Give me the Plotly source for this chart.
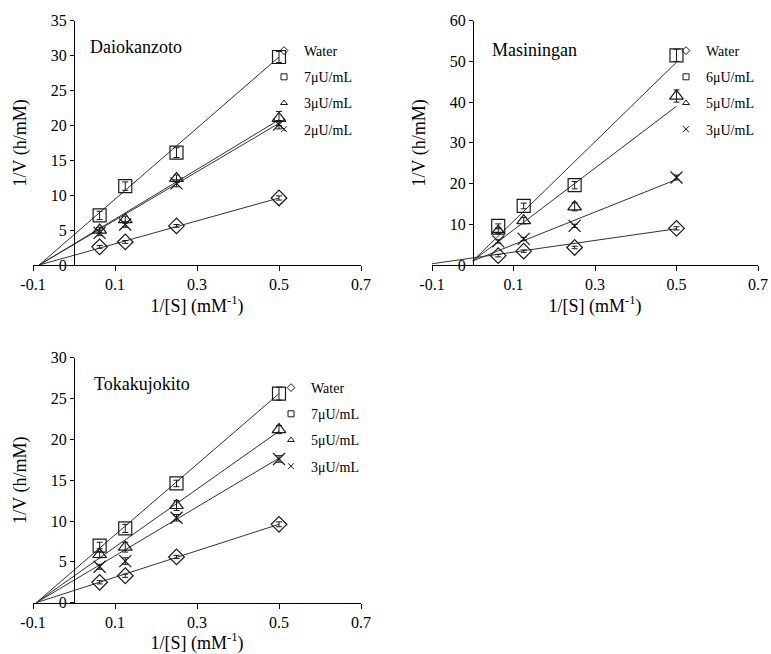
import plotly.graph_objects as go

# ---------------- data ----------------
inv_s = [0.0625, 0.125, 0.25, 0.5]
x_tick_vals = [-0.1, 0.1, 0.3, 0.5, 0.7]
x_tick_text = ["-0.1", "0.1", "0.3", "0.5", "0.7"]

panel_names = ["Daiokanzoto", "Masiningan", "Tokakujokito"]

# Daiokanzoto
dai_labels = ["Water", "7μU/mL", "3μU/mL", "2μU/mL"]
dai_water = [2.6, 3.3, 5.6, 9.6]
dai_c1 = [7.1, 11.3, 16.1, 29.8]
dai_c2 = [5.0, 6.5, 12.4, 21.0]
dai_c3 = [4.6, 5.8, 11.7, 20.1]
dai_err_water = [0.2, 0.2, 0.2, 0.3]
dai_err_c1 = [0.6, 0.6, 0.7, 0.8]
dai_err_c2 = [0.4, 0.5, 0.5, 1.0]
dai_err_c3 = [0.4, 0.4, 0.5, 0.6]
dai_fit_x = [-0.085, 0.5]
dai_fit_water = [0.0, 9.6]
dai_fit_c1 = [0.0, 29.8]
dai_fit_c2 = [0.0, 20.8]
dai_fit_c3 = [0.0, 20.3]

# Masiningan
mas_labels = ["Water", "6μU/mL", "5μU/mL", "3μU/mL"]
mas_water = [2.3, 3.4, 4.3, 9.0]
mas_c1 = [9.6, 14.5, 19.6, 51.5]
mas_c2 = [8.3, 10.9, 14.3, 41.5]
mas_c3 = [5.8, 6.4, 9.6, 21.5]
mas_err_water = [0.3, 0.3, 0.3, 0.4]
mas_err_c1 = [0.5, 0.7, 0.9, 1.5]
mas_err_c2 = [0.6, 0.8, 1.0, 1.5]
mas_err_c3 = [0.4, 0.4, 0.4, 0.6]
mas_fit_water_x = [-0.1, 0.5]
mas_fit_water = [0.3, 8.9]
mas_fit_x = [0.0, 0.5]
mas_fit_c1 = [1.0, 49.8]
mas_fit_c2 = [1.0, 39.0]
mas_fit_c3 = [1.0, 21.0]

# Tokakujokito
tok_labels = ["Water", "7μU/mL", "5μU/mL", "3μU/mL"]
tok_water = [2.5, 3.3, 5.6, 9.6]
tok_c1 = [7.0, 9.1, 14.6, 25.6]
tok_c2 = [5.9, 6.8, 11.9, 21.2]
tok_c3 = [4.4, 5.1, 10.4, 17.6]
tok_err_water = [0.2, 0.2, 0.2, 0.3]
tok_err_c1 = [0.4, 0.5, 0.4, 0.8]
tok_err_c2 = [0.4, 0.6, 0.6, 0.5]
tok_err_c3 = [0.3, 0.4, 0.4, 0.4]
tok_fit_x = [-0.092, 0.5]
tok_fit_water = [0.0, 9.6]
tok_fit_c1 = [0.0, 25.6]
tok_fit_c2 = [0.0, 21.0]
tok_fit_c3 = [0.0, 17.7]

# ---------------- styling ----------------
W, H = 771, 654
FONT = "Liberation Serif"
INK = "#1a1a1a"
LINE = "#333333"
symbols = ["diamond-open", "square-open", "triangle-up-open", "x-thin-open"]
sizes = [12, 13, 12, 12]


def px(v):
    return v / W


def py(v):
    return 1 - v / H


panels = [
    dict(xa="x", ya="y", legend="legend",
         labels=dai_labels,
         ys=[dai_water, dai_c1, dai_c2, dai_c3],
         errs=[dai_err_water, dai_err_c1, dai_err_c2, dai_err_c3],
         fits=[(dai_fit_x, dai_fit_water), (dai_fit_x, dai_fit_c1),
               (dai_fit_x, dai_fit_c2), (dai_fit_x, dai_fit_c3)]),
    dict(xa="x2", ya="y2", legend="legend2",
         labels=mas_labels,
         ys=[mas_water, mas_c1, mas_c2, mas_c3],
         errs=[mas_err_water, mas_err_c1, mas_err_c2, mas_err_c3],
         fits=[(mas_fit_water_x, mas_fit_water), (mas_fit_x, mas_fit_c1),
               (mas_fit_x, mas_fit_c2), (mas_fit_x, mas_fit_c3)]),
    dict(xa="x3", ya="y3", legend="legend3",
         labels=tok_labels,
         ys=[tok_water, tok_c1, tok_c2, tok_c3],
         errs=[tok_err_water, tok_err_c1, tok_err_c2, tok_err_c3],
         fits=[(tok_fit_x, tok_fit_water), (tok_fit_x, tok_fit_c1),
               (tok_fit_x, tok_fit_c2), (tok_fit_x, tok_fit_c3)]),
]

fig = go.Figure()

for pi, p in enumerate(panels):
    for i in range(4):
        fx, fy = p["fits"][i]
        fig.add_trace(go.Scatter(
            x=fx, y=fy, mode="lines", xaxis=p["xa"], yaxis=p["ya"],
            line=dict(color=LINE, width=1), showlegend=False, hoverinfo="skip"))
    for i in range(4):
        fig.add_trace(go.Scatter(
            x=inv_s, y=p["ys"][i], mode="markers", xaxis=p["xa"], yaxis=p["ya"],
            marker=dict(symbol=symbols[i], size=sizes[i], color=INK,
                        line=dict(width=1.2, color=INK)),
            error_y=dict(type="data", array=p["errs"][i], color=INK,
                         thickness=1, width=3),
            showlegend=False, name=p["labels"][i]))
    for i in range(4):
        fig.add_trace(go.Scatter(
            x=[None], y=[None], mode="markers", xaxis=p["xa"], yaxis=p["ya"],
            marker=dict(symbol=symbols[i], size=6, color=INK,
                        line=dict(width=1, color=INK)),
            name=p["labels"][i], legend=p["legend"],
            legendgroup=f"g{pi}_{i}", showlegend=True))

tick_font = dict(family=FONT, size=16, color="black")
title_font = dict(family=FONT, size=18, color="black")

x_domains = [[px(33), px(361)], [px(432), px(758)], [px(33), px(361)]]
y_domains = [[py(265), py(20.7)], [py(265), py(20.7)], [py(602.7), py(357.7)]]
y_pos = [px(74), px(473), px(74)]
y_ranges = [[0, 35], [0, 60], [0, 30]]
y_dticks = [5, 10, 5]

layout = dict(
    width=W, height=H,
    margin=dict(l=0, r=0, t=0, b=0, pad=0, autoexpand=False),
    paper_bgcolor="white", plot_bgcolor="white",
    font=dict(family=FONT, color="black"),
)

for k in range(3):
    sx = "" if k == 0 else str(k + 1)
    layout["xaxis" + sx] = dict(
        domain=x_domains[k], anchor="y" + sx, range=[-0.1, 0.7],
        tickmode="array", tickvals=x_tick_vals, ticktext=x_tick_text,
        showline=True, linecolor="black", linewidth=1,
        ticks="outside", ticklen=5, tickcolor="black", tickwidth=1,
        showgrid=False, zeroline=False, tickfont=tick_font, automargin=False,
        title=dict(text="1/[S] (mM<sup>-1</sup>)", font=title_font, standoff=6),
    )
    layout["yaxis" + sx] = dict(
        domain=y_domains[k], anchor="free", position=y_pos[k],
        range=y_ranges[k], dtick=y_dticks[k], tick0=0,
        showline=True, linecolor="black", linewidth=1,
        ticks="outside", ticklen=4, tickcolor="black", tickwidth=1,
        showgrid=False, zeroline=False, tickfont=tick_font, automargin=False,
        title=dict(text="1/V (h/mM)", font=title_font, standoff=18),
    )

legend_common = dict(
    font=dict(family=FONT, size=14, color="black"),
    bgcolor="rgba(0,0,0,0)", borderwidth=0,
    traceorder="grouped", tracegroupgap=5,
    itemwidth=30, xanchor="left", yanchor="top",
)
layout["legend"] = dict(legend_common, x=px(264), y=py(35))
layout["legend2"] = dict(legend_common, x=px(666), y=py(35))
layout["legend3"] = dict(legend_common, x=px(271), y=py(372))

title_pos = [(88, 47), (490, 50), (92, 384)]
layout["annotations"] = [
    dict(text=panel_names[k], x=px(title_pos[k][0]), y=py(title_pos[k][1]),
         xref="paper", yref="paper", xanchor="left", yanchor="middle",
         showarrow=False, font=dict(family=FONT, size=18, color="black"))
    for k in range(3)
]

fig.update_layout(**layout)
fig.write_html(
    "out.html",
    config={"displayModeBar": False},
    post_script="document.body.style.margin='0';document.body.style.overflow='hidden';",
)
